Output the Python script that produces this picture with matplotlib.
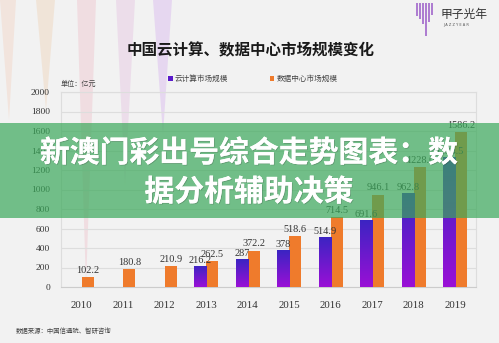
import numpy as np
import matplotlib
matplotlib.use("Agg")
import matplotlib.pyplot as plt
from matplotlib.colors import LinearSegmentedColormap
from matplotlib.patches import Polygon, Rectangle
import matplotlib.patheffects as pe

plt.rcParams['font.family'] = ['Noto Sans CJK SC', 'DejaVu Sans']

# ---- data ----
years = ['2010', '2011', '2012', '2013', '2014', '2015', '2016', '2017', '2018', '2019']
cloud = [None, None, None, 216.2, 287, 378, 514.9, 691.6, 962.8, 1334.5]
datacenter = [102.2, 180.8, 210.9, 262.5, 372.2, 518.6, 714.5, 946.1, 1228.0, 1586.2]
yticks = [0, 200, 400, 600, 800, 1000, 1200, 1400, 1600, 1800, 2000]
title = '中国云计算、数据中心市场规模变化'
series_names = ['云计算市场规模', '数据中心市场规模']
unit_text = '单位：亿元'
source_text = '数据来源：中国信通院、智研咨询'
banner_lines = ['新澳门彩出号综合走势图表：数', '据分析辅助决策']

W, H = 499, 343
BG = '#f2f2f2'
fig = plt.figure(figsize=(W / 100, H / 100), dpi=100, facecolor=BG)

# ---- background decoration axes (pixel coords) ----
bg = fig.add_axes([0, 0, 1, 1], zorder=0)
bg.set_xlim(0, W)
bg.set_ylim(H, 0)
bg.axis('off')
wedges = [
    ((0, 0), (16, 0), (9, 120), '#f3d9cc', 0.55),
    ((36, 0), (55, 0), (46, 110), '#f0dcc8', 0.6),
    ((77, 0), (96, 0), (86, 285), '#f0cfd6', 0.6),
    ((116, 0), (135, 0), (125, 185), '#e8d0e6', 0.6),
    ((153, 0), (172, 0), (163, 135), '#e3cff0', 0.75),
]
for a, b, c, col, al in wedges:
    bg.add_patch(Polygon([a, b, c], closed=True, facecolor=col, edgecolor='none', alpha=al))

# logo
logo_x = [417, 420, 423, 426, 429, 432]
logo_bot = [16, 19, 24, 36, 22, 15]
for lx, lb in zip(logo_x, logo_bot):
    bg.plot([lx, lx], [3, lb], color='#8a3fc0', lw=1.1, alpha=0.85, solid_capstyle='butt')
bg.text(441, 14, '甲子光年', fontsize=8.5, color='#333333', va='center', ha='left')
bg.text(443, 25, 'J A Z Z Y E A R', fontsize=2.6, color='#555555', va='center', ha='left',
        family='DejaVu Sans')

# ---- main axes ----
ax = fig.add_axes([61 / W, 1 - 287 / H, (476 - 61) / W, (287 - 92) / H], zorder=1)
ax.set_facecolor('none')
x = np.arange(len(years))
bw = 0.29
cloud_vals = np.array([np.nan if v is None else v for v in cloud], dtype=float)
bars_c = ax.bar(x - bw / 2, np.nan_to_num(cloud_vals), bw, color='#5a1acb', zorder=3,
                label=series_names[0])
bars_d = ax.bar(x + bw / 2, datacenter, bw, color='#ef7b2c', zorder=3, label=series_names[1])

cmap = LinearSegmentedColormap.from_list('pg', ['#9a10d6', '#3a24c2'])
grad = np.linspace(0, 1, 256).reshape(-1, 1)
for p, v in zip(bars_c, cloud_vals):
    if np.isnan(v):
        continue
    x0, y0, w, h = p.get_x(), p.get_y(), p.get_width(), p.get_height()
    im = ax.imshow(grad, extent=[x0, x0 + w, y0, y0 + h], origin='lower', cmap=cmap,
                   aspect='auto', zorder=3.5)
    im.set_clip_path(p)

ax.set_xlim(-0.5, len(years) - 0.5)
ax.set_ylim(0, 2000)
ax.set_yticks(yticks)
ax.set_yticklabels([str(t) for t in yticks], family='Liberation Serif', fontsize=6.8, color='#333333')
ax.set_xticks(x)
ax.set_xticklabels(years, family='Liberation Serif', fontsize=7.8, color='#333333')
ax.tick_params(axis='both', length=0)
ax.tick_params(axis='x', pad=10)
ax.tick_params(axis='y', pad=8)
ax.grid(axis='y', color='#dddddd', lw=0.8, zorder=0)
ax.set_axisbelow(True)
for s in ax.spines.values():
    s.set_color('#dddddd')
    s.set_linewidth(0.8)
ax.spines['bottom'].set_color('#cccccc')

lab_kw = dict(family='Liberation Serif', fontsize=7.4, color='#333333', ha='center', va='bottom')
for xi, v in zip(x, cloud_vals):
    if not np.isnan(v):
        ax.text(xi - bw / 2, v + 8, f'{v:g}', zorder=4, **lab_kw)
for xi, v in zip(x, datacenter):
    ax.text(xi + bw / 2, v + 25, f'{v:.1f}', zorder=4, **lab_kw)

leg = ax.legend(loc='center', bbox_to_anchor=(253 / W, 1 - 79 / H), bbox_transform=fig.transFigure,
                ncol=2, frameon=False, fontsize=5.5, handlelength=0.55, handleheight=0.55,
                handletextpad=0.3, columnspacing=5.5, labelcolor='#444444')

# ---- texts ----
fig.text(251 / W, 1 - 50 / H, title, fontsize=11.2, fontweight='bold', color='#1a1a1a',
         ha='center', va='center')
fig.text(61 / W, 1 - 84 / H, unit_text, fontsize=5.1, color='#444444', ha='left', va='center')
fig.text(16 / W, 1 - 331 / H, source_text, fontsize=4.6, color='#444444', ha='left', va='center')

# ---- banner overlay ----
fig.patches.append(Rectangle((0, 1 - 218 / H), 1, (218 - 123) / H, transform=fig.transFigure,
                             facecolor='#3ba95b', alpha=0.7, edgecolor='none', zorder=5))
shadow = [pe.withSimplePatchShadow(offset=(0.6, -0.6), shadow_rgbFace='#333333', alpha=0.25),
          pe.Normal()]
fig.text(249 / W, 1 - 153 / H, banner_lines[0], fontsize=21.5, fontweight='bold', color='white',
         ha='center', va='center', zorder=6, path_effects=shadow)
fig.text(249 / W, 1 - 192 / H, banner_lines[1], fontsize=21.5, fontweight='bold', color='white',
         ha='center', va='center', zorder=6, path_effects=shadow)

fig.savefig('out.png', dpi=100, facecolor=BG)
